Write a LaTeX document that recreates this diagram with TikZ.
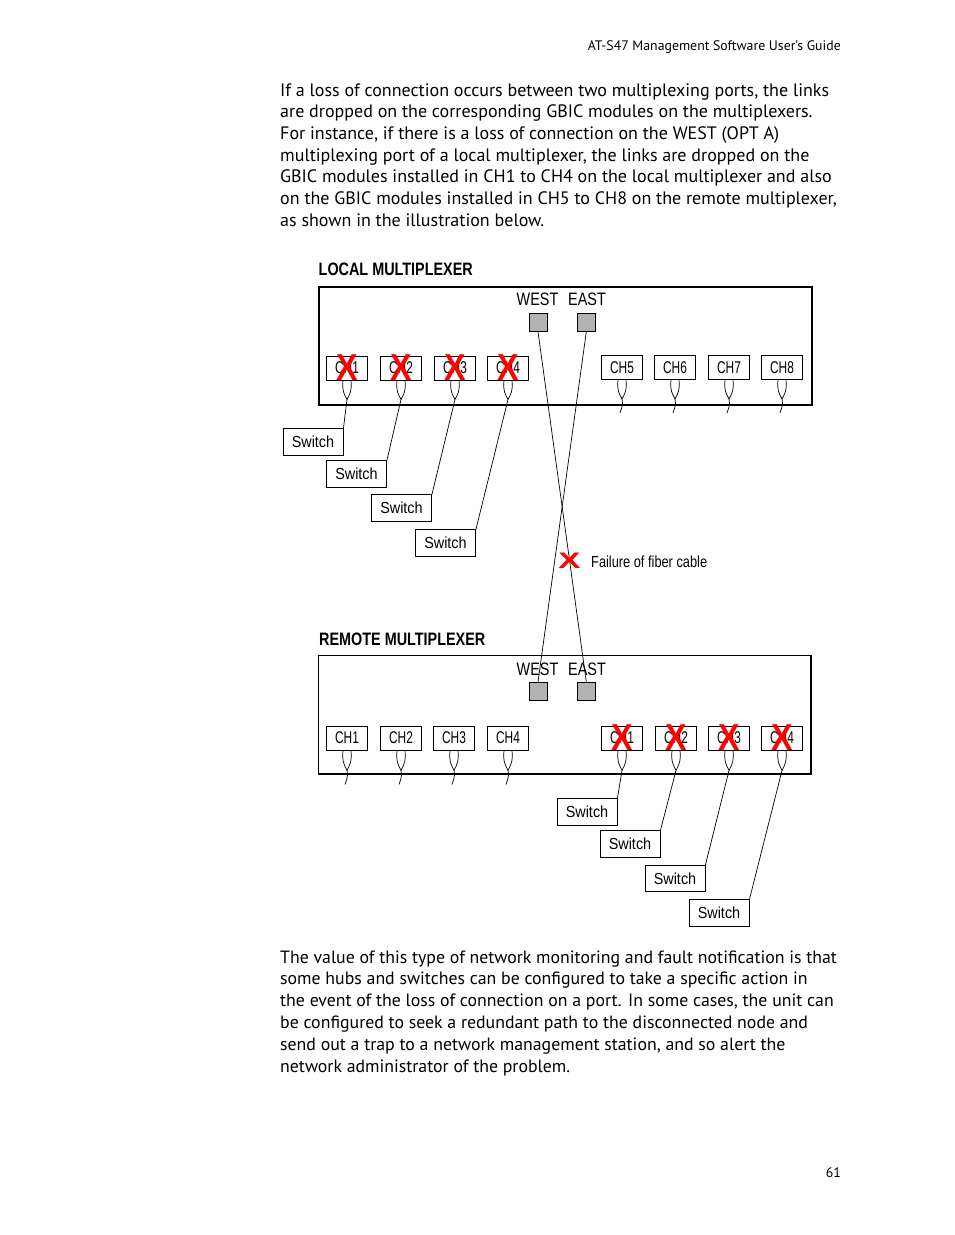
\documentclass[tikz,border=0pt]{standalone}
\usepackage{fontspec}
\setmainfont{PT Sans}
\newfontfamily\chfont[FakeStretch=0.7]{Liberation Sans}
\newfontfamily\labfont[FakeStretch=0.8]{Liberation Sans}
\newfontfamily\swfont[FakeStretch=0.9]{Liberation Sans}
\newfontfamily\xfont{Liberation Sans}
\tikzset{
  bodyline/.style={anchor=base west, inner sep=0, font=\fontsize{18}{21}\selectfont},
  chbox/.style={draw, line width=0.9, minimum width=41, minimum height=24, inner sep=0, font=\chfont\fontsize{17}{17}\selectfont},
  swbox/.style={draw, line width=0.9, minimum width=60, minimum height=26.5, inner sep=0, font=\swfont\fontsize{16}{16}\selectfont},
  portbox/.style={draw, line width=0.9, fill=black!30, minimum size=18, inner sep=0},
  portlabel/.style={anchor=base, inner sep=0, font=\labfont\fontsize{18}{18}\selectfont},
  muxtitle/.style={anchor=base west, inner sep=0, font=\labfont\bfseries\fontsize{18}{18}\selectfont},
  failx/.style={inner sep=0, text=red, font=\xfont\bfseries\fontsize{37.5}{37.5}\selectfont},
  wire/.style={line width=0.7}
}
\begin{document}
\begin{tikzpicture}[x=1pt, y=-1pt]
  \useasboundingbox[fill=white] (0,0) rectangle (954,1235);
  \node[anchor=base east, inner sep=0, font=\fontsize{13.8}{13.8}\selectfont] (head) at (841,50.5) {AT-S47 Management Software User's Guide};
  \node[bodyline] (p1) at (280,96) {If a loss of connection occurs between two multiplexing ports, the links};
  \node[bodyline] (p2) at (280,117.7) {are dropped on the corresponding GBIC modules on the multiplexers.};
  \node[bodyline] (p3) at (280,139.3) {For instance, if there is a loss of connection on the WEST (OPT A)};
  \node[bodyline] (p4) at (280,161) {multiplexing port of a local multiplexer, the links are dropped on the};
  \node[bodyline] (p5) at (280,182.7) {GBIC modules installed in CH1 to CH4 on the local multiplexer and also};
  \node[bodyline] (p6) at (280,204.3) {on the GBIC modules installed in CH5 to CH8 on the remote multiplexer,};
  \node[bodyline] (p7) at (280,226) {as shown in the illustration below.};

  \node[muxtitle] (localtitle) at (318.5,275) {LOCAL MULTIPLEXER};
  \draw[line width=2] (318.5,286.5) rectangle (812,405);
  \node[portlabel] (lwestlab) at (537.5,305) {WEST};
  \node[portlabel] (leastlab) at (587,305) {EAST};
  \node[portbox] (lwest) at (538,322.3) {};
  \node[portbox] (least) at (586.3,322.3) {};
  \foreach \x [count=\i] in {347,401,455,508} {
    \node[chbox] (lch\i) at (\x,368) {CH\i};
    \coordinate (lt\i) at ([yshift=-19pt]lch\i.south);
    \draw[wire] ([xshift=-4pt]lch\i.south) .. controls +(-1,11) and +(-3,-6) .. (lt\i) .. controls +(3,-6) and +(1,11) .. ([xshift=4pt]lch\i.south);
    \node[failx] at (lch\i) {\scalebox{0.86}[1]{X}};
  }
  \foreach \x [count=\i from 5] in {622,675,729,782} {
    \node[chbox] (lch\i) at (\x,367.5) {CH\i};
    \coordinate (lt\i) at ([yshift=-19pt]lch\i.south);
    \draw[wire] ([xshift=-4pt]lch\i.south) .. controls +(-1,11) and +(-3,-6) .. (lt\i) .. controls +(3,-6) and +(1,11) .. ([xshift=4pt]lch\i.south);
    \draw[wire] (lt\i) .. controls +(1.5,7) and +(1,-4) .. +(-2,14);
  }
  \foreach \x/\y [count=\i] in {313/442, 356.5/474, 401.5/508, 445.5/543} {
    \node[swbox] (lsw\i) at (\x,\y) {Switch};
    \draw[wire] (lt\i) -- (lsw\i.north east);
  }

  \node[muxtitle] (remotetitle) at (319,645) {REMOTE MULTIPLEXER};
  \draw[line width=1.2] (318.5,655.5) rectangle (811,774);
  \node[portlabel] (rwestlab) at (537.5,675) {WEST};
  \node[portlabel] (reastlab) at (587,675) {EAST};
  \node[portbox] (rwest) at (538,691.3) {};
  \node[portbox] (reast) at (586.3,691.3) {};
  \foreach \x [count=\i] in {347,401,454,508} {
    \node[chbox] (rcha\i) at (\x,738) {CH\i};
    \coordinate (rta\i) at ([yshift=-20pt]rcha\i.south);
    \draw[wire] ([xshift=-4pt]rcha\i.south) .. controls +(-1,11) and +(-3,-6) .. (rta\i) .. controls +(3,-6) and +(1,11) .. ([xshift=4pt]rcha\i.south);
    \draw[wire] (rta\i) .. controls +(1.5,7) and +(1,-4) .. +(-2,14);
  }
  \foreach \x [count=\i] in {622,676,729,782} {
    \node[chbox] (rchb\i) at (\x,738) {CH\i};
    \coordinate (rtb\i) at ([yshift=-20pt]rchb\i.south);
    \draw[wire] ([xshift=-4pt]rchb\i.south) .. controls +(-1,11) and +(-3,-6) .. (rtb\i) .. controls +(3,-6) and +(1,11) .. ([xshift=4pt]rchb\i.south);
    \node[failx] at (rchb\i) {\scalebox{0.86}[1]{X}};
  }
  \foreach \x/\y [count=\i] in {587/812, 630/844, 675/878.5, 719/913} {
    \node[swbox] (rsw\i) at (\x,\y) {Switch};
    \draw[wire] (rtb\i) -- (rsw\i.north east);
  }

  \draw[wire] (lwest.south) -- (reast.north);
  \draw[wire] (least.south) -- (rwest.north);
  \node[inner sep=0, text=red, font=\labfont\bfseries\fontsize{22.5}{22.5}\selectfont] (cut) at (569.5,561) {\scalebox{1.85}[1]{X}};
  \node[anchor=base west, inner sep=0, font=\labfont\fontsize{16}{16}\selectfont] (cutlab) at (591,567) {Failure of fiber cable};

  \node[bodyline, font=\fontsize{17.8}{21}\selectfont] (q1) at (280,963) {The value of this type of network monitoring and fault notification is that};
  \node[bodyline, font=\fontsize{17.8}{21}\selectfont] (q2) at (280,984.8) {some hubs and switches can be configured to take a specific action in};
  \node[bodyline, font=\fontsize{17.8}{21}\selectfont] (q3) at (280,1006.6) {the event of the loss of connection on a port. In some cases, the unit can};
  \node[bodyline, font=\fontsize{17.8}{21}\selectfont] (q4) at (280,1028.4) {be configured to seek a redundant path to the disconnected node and};
  \node[bodyline, font=\fontsize{17.8}{21}\selectfont] (q5) at (280,1050.2) {send out a trap to a network management station, and so alert the};
  \node[bodyline, font=\fontsize{17.8}{21}\selectfont] (q6) at (280,1072) {network administrator of the problem.};
  \node[anchor=base east, inner sep=0, font=\fontsize{13.8}{13.8}\selectfont] (pageno) at (841,1177) {61};
\end{tikzpicture}
\end{document}
